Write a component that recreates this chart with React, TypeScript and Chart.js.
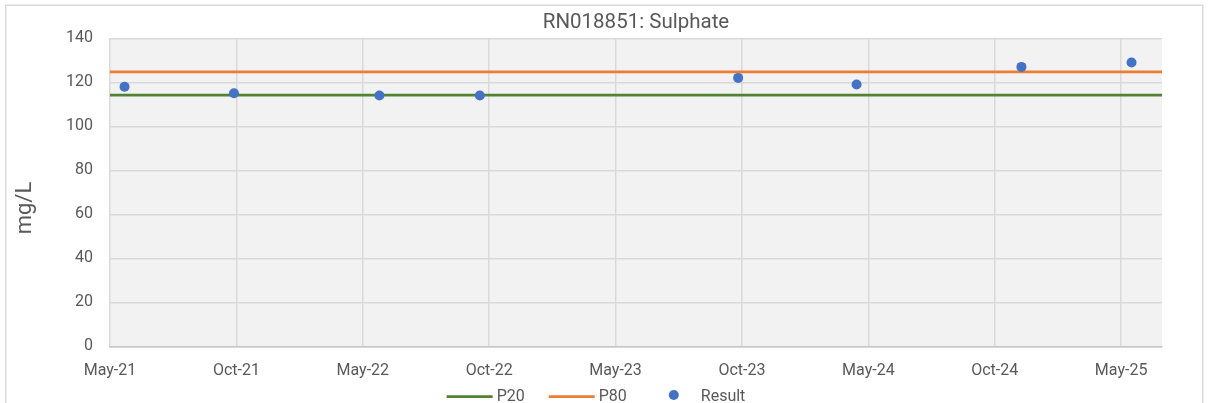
import React, { useEffect, useRef } from "react";
import { Chart, registerables } from "chart.js";

Chart.register(...registerables);

// ---- Data ----
const chartTitle = "RN018851: Sulphate";
const yAxisTitle = "mg/L";
const tickLabels = ["May-21", "Oct-21", "May-22", "Oct-22", "May-23", "Oct-23", "May-24", "Oct-24", "May-25"];
const axisStartDate = "2021-05-01";
const tickStepDays = 182.5;
const axisSpanDays = 1519;
const sampleDates = ["2021-05-22", "2021-10-27", "2022-05-25", "2022-10-17", "2023-10-25", "2024-04-13", "2024-12-07", "2025-05-15"];
const resultValues = [118, 115, 114, 114, 122, 119, 127, 129];
const p20Value = 114.2;
const p80Value = 124.7;
const yMin = 0;
const yMax = 140;
const yStep = 20;

// ---- Styles ----
const FONT = "Roboto";
const TEXT = "#595959";
const GRID = "#d9d9d9";
const GREEN = "#548235";
const ORANGE = "#ED7D31";
const BLUE = "#4472C4";

const DAY = 86400000;
const dayOffset = (s: string) => (Date.parse(s) - Date.parse(axisStartDate)) / DAY;

export default function App() {
  const ref = useRef<HTMLCanvasElement | null>(null);

  useEffect(() => {
    if (!ref.current) return;

    const resultPoints = sampleDates.map((d, i) => ({ x: dayOffset(d), y: resultValues[i] }));
    const p20Points = [{ x: 0, y: p20Value }, { x: axisSpanDays, y: p20Value }];
    const p80Points = [{ x: 0, y: p80Value }, { x: axisSpanDays, y: p80Value }];

    const backgroundPlugin = {
      id: "bgPlugin",
      beforeDraw(chart: any) {
        const { ctx, chartArea } = chart;
        ctx.save();
        ctx.fillStyle = "#ffffff";
        ctx.fillRect(0, 0, chart.width, chart.height);
        ctx.strokeStyle = GRID;
        ctx.lineWidth = 1.5;
        ctx.strokeRect(5.75, 5.25, 1197, 420);
        ctx.fillStyle = "#f2f2f2";
        ctx.fillRect(chartArea.left, chartArea.top, chartArea.right - chartArea.left, chartArea.bottom - chartArea.top);
        ctx.restore();
      },
    };

    const decorPlugin = {
      id: "decorPlugin",
      afterDraw(chart: any) {
        const { ctx } = chart;
        ctx.save();
        // Y axis title
        ctx.translate(25, 208);
        ctx.rotate(-Math.PI / 2);
        ctx.font = `22px ${FONT}`;
        ctx.fillStyle = TEXT;
        ctx.textAlign = "center";
        ctx.textBaseline = "middle";
        ctx.fillText(yAxisTitle, 0, 0);
        ctx.restore();

        // Legend
        ctx.save();
        ctx.font = `16px ${FONT}`;
        const sampleW = 46;
        const gapText = 4;
        const gapItem = 24;
        const items = chart.data.datasets.map((ds: any) => ({
          text: ds.label,
          color: ds.showLine ? ds.borderColor : ds.backgroundColor,
          kind: ds.showLine ? "line" : "point",
          w: ctx.measureText(ds.label).width,
        }));
        const total = items.reduce((s: number, it: any) => s + sampleW + gapText + it.w, 0) + gapItem * (items.length - 1);
        let x = 596 - total / 2;
        const y = 396.5;
        items.forEach((it: any) => {
          if (it.kind === "line") {
            ctx.strokeStyle = it.color;
            ctx.lineWidth = 2.75;
            ctx.beginPath();
            ctx.moveTo(x, y);
            ctx.lineTo(x + sampleW, y);
            ctx.stroke();
          } else {
            ctx.fillStyle = it.color;
            ctx.beginPath();
            ctx.arc(x + sampleW / 2, y - 1.5, 5, 0, Math.PI * 2);
            ctx.fill();
          }
          ctx.fillStyle = TEXT;
          ctx.textAlign = "left";
          ctx.textBaseline = "middle";
          ctx.fillText(it.text, x + sampleW + gapText, y);
          x += sampleW + gapText + it.w + gapItem;
        });
        ctx.restore();
      },
    };

    const chart = new Chart(ref.current, {
      type: "scatter",
      data: {
        datasets: [
          {
            label: "P20",
            data: p20Points,
            showLine: true,
            borderColor: GREEN,
            backgroundColor: GREEN,
            borderWidth: 2.75,
            pointRadius: 0,
            order: 2,
          },
          {
            label: "P80",
            data: p80Points,
            showLine: true,
            borderColor: ORANGE,
            backgroundColor: ORANGE,
            borderWidth: 2.75,
            pointRadius: 0,
            order: 1,
          },
          {
            label: "Result",
            data: resultPoints,
            showLine: false,
            backgroundColor: BLUE,
            borderColor: BLUE,
            pointRadius: 5,
            borderWidth: 0,
            order: 0,
          },
        ],
      },
      options: {
        responsive: false,
        devicePixelRatio: 1,
        animation: false,
        layout: { padding: { left: 0, right: 46, top: 0, bottom: 0 } },
        plugins: {
          legend: { display: false },
          tooltip: { enabled: false },
          title: {
            display: true,
            text: chartTitle,
            fullSize: false,
            color: TEXT,
            font: { family: FONT, size: 20.5, weight: "normal" },
            padding: { top: 11, bottom: 2.7 },
          },
        },
        scales: {
          x: {
            type: "linear",
            min: 0,
            max: axisSpanDays,
            afterBuildTicks: (scale: any) => {
              scale.ticks = tickLabels.map((_, i) => ({ value: i * tickStepDays }));
            },
            afterFit: (scale: any) => {
              scale.height = 56.7;
            },
            ticks: {
              autoSkip: false,
              maxRotation: 0,
              padding: 15,
              color: TEXT,
              font: { family: FONT, size: 16 },
              callback: (_v: any, i: number) => tickLabels[i],
            },
            grid: { color: GRID, lineWidth: 1.5, drawTicks: false },
            border: { display: true, color: "#c6c6c6", width: 1.5 },
          },
          y: {
            min: yMin,
            max: yMax,
            afterFit: (scale: any) => {
              scale.width = 110;
            },
            ticks: {
              stepSize: yStep,
              padding: 17,
              color: TEXT,
              font: { family: FONT, size: 16 },
            },
            grid: { color: GRID, lineWidth: 1.5, drawTicks: false },
            border: { display: false },
          },
        },
      },
      plugins: [backgroundPlugin, decorPlugin],
    } as any);

    return () => chart.destroy();
  }, []);

  return (
    <div style={{ position: "fixed", left: 0, top: 0, width: 1208, height: 403, overflow: "hidden", background: "#fff" }}>
      <canvas ref={ref} width={1208} height={403} style={{ display: "block", width: 1208, height: 403 }} />
    </div>
  );
}
